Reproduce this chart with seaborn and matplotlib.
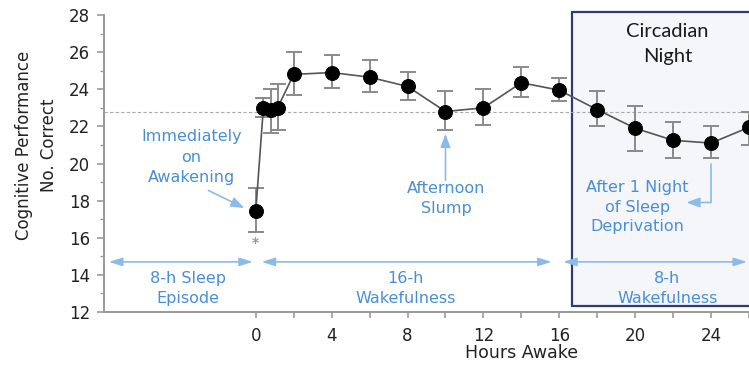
import matplotlib
matplotlib.use("Agg")
import matplotlib.pyplot as plt
import numpy as np
import pandas as pd
import seaborn as sns
from matplotlib.patches import Rectangle
from matplotlib.ticker import MultipleLocator

# values
hours = [0, 0.4, 0.8, 1.15, 2, 4, 6, 8, 10, 12, 14, 16, 18, 20, 22, 24, 26]
score = [17.45, 23.0, 22.9, 23.0, 24.8, 24.9, 24.65, 24.15, 22.8, 23.0,
         24.35, 23.95, 22.9, 21.9, 21.25, 21.1, 21.95]
err_low = [16.3, 22.5, 21.65, 21.8, 23.7, 24.05, 23.85, 23.4, 21.8, 22.1,
           23.6, 23.35, 22.0, 20.7, 20.3, 20.3, 21.0]
err_high = [18.7, 23.55, 24.0, 24.3, 26.0, 25.85, 25.55, 24.95, 23.9, 24.0,
            25.2, 24.6, 23.9, 23.1, 22.25, 22.0, 22.8]
baseline = 22.8

periods = ["8-h Sleep\nEpisode", "16-h\nWakefulness", "8-h\nWakefulness"]
period_start = [-7.75, 0.3, 16.2]
period_end = [-0.15, 15.6, 25.9]
period_mid = [-3.6, 7.9, 21.7]

df = pd.DataFrame({"hours": hours, "score": score,
                   "low": err_low, "high": err_high})

BLUE = "#4a8ed6"
BLUE_LINE = "#8dbbe9"
BLUE_HEAD = "#5b97db"
sns.set_style("ticks")
plt.rcParams["font.family"] = ["DejaVu Sans"]

fig = plt.figure(figsize=(7.49, 3.73), dpi=100)
ax = fig.add_axes([0.1389, 0.1635, 0.8611, 0.7963])

# circadian night box
ax.add_patch(Rectangle((16.67, 12.3), 10, 15.85, facecolor="#f5f6fa",
                       edgecolor="#2f3b78", lw=1.6, clip_on=False, zorder=0.5))
ax.text(21.7, 26.45, "Circadian\nNight", family=["Lato", "DejaVu Sans"],
        fontsize=14.5, ha="center", va="center", linespacing=1.55,
        color="#1a1a1a", zorder=3)

ax.axhline(baseline, color="#aaaaaa", lw=0.8, dashes=(3, 2), zorder=1)

ax.errorbar(df.hours, df.score,
            yerr=[df.score - df.low, df.high - df.score],
            fmt="none", ecolor="#8a8a8a", elinewidth=1.4, capsize=6,
            capthick=1.4, zorder=2)
sns.lineplot(data=df, x="hours", y="score", sort=False, ax=ax,
             color="#555555", lw=1.2, marker="o", markersize=10,
             markerfacecolor="black", markeredgecolor="black", zorder=4)

ax.text(0, 15.7, "*", color="#999999", fontsize=10, ha="center",
        va="center", fontweight="bold")

# period arrows
for lab, x0, x1, xm in zip(periods, period_start, period_end, period_mid):
    ax.annotate("", xy=(x1, 14.7), xytext=(x0, 14.7),
                arrowprops=dict(arrowstyle="<|-|>,head_length=0.8,head_width=0.25",
                                color=BLUE_LINE, lw=1.2, shrinkA=0, shrinkB=0,
                                mutation_scale=10),
                annotation_clip=False)
    ax.text(xm, 13.25, lab, color=BLUE, fontsize=11.5, ha="center",
            va="center", linespacing=1.4)

# callouts
ax.text(-3.4, 20.35, "Immediately\non\nAwakening", color=BLUE, fontsize=11.5,
        ha="center", va="center", linespacing=1.45)
ax.annotate("", xy=(-0.6, 17.6), xytext=(-2.5, 18.55),
            arrowprops=dict(arrowstyle="-|>,head_length=0.8,head_width=0.3",
                            color=BLUE_LINE, lw=1.2, shrinkA=0, shrinkB=0,
                            mutation_scale=10))
ax.text(10.05, 18.1, "Afternoon\nSlump", color=BLUE, fontsize=11.5,
        ha="center", va="center", linespacing=1.4)
ax.annotate("", xy=(10, 21.6), xytext=(10, 19.1),
            arrowprops=dict(arrowstyle="-|>,head_length=0.8,head_width=0.3",
                            color=BLUE_LINE, lw=1.2, shrinkA=0, shrinkB=0,
                            mutation_scale=10))
ax.text(20.1, 17.65, "After 1 Night\nof Sleep\nDeprivation", color=BLUE,
        fontsize=11.5, ha="center", va="center", linespacing=1.4)
ax.plot([24, 24], [20.0, 17.9], color=BLUE_LINE, lw=1.2)
ax.annotate("", xy=(22.7, 17.9), xytext=(24, 17.9),
            arrowprops=dict(arrowstyle="-|>,head_length=0.8,head_width=0.3",
                            color=BLUE_LINE, lw=1.2, shrinkA=0, shrinkB=0,
                            mutation_scale=10))

# axes
ax.set_xlim(-8, 26)
ax.set_ylim(12, 28)
ax.set_xticks([0, 4, 8, 12, 16, 20, 24])
ax.set_xticks([2, 6, 10, 14, 18, 22, 26], minor=True)
ax.yaxis.set_major_locator(MultipleLocator(2))
ax.yaxis.set_minor_locator(MultipleLocator(1))
ax.tick_params(axis="both", which="major", labelsize=12, colors="#999999",
               labelcolor="#222222", width=1.2)
ax.tick_params(axis="x", which="both", length=4, width=1.2, color="#999999", pad=7)
ax.tick_params(axis="y", which="major", length=5, pad=5)
ax.tick_params(axis="y", which="minor", length=3, width=1.0, color="#999999")
for side in ["top", "right"]:
    ax.spines[side].set_visible(False)
for side in ["left", "bottom"]:
    ax.spines[side].set_color("#999999")
    ax.spines[side].set_linewidth(1.4)

ax.set_xlabel("Hours Awake", fontsize=12.5, color="#222222",
              ha="center", va="center")
ax.xaxis.set_label_coords(0.647, -0.138)
ax.set_ylabel("Cognitive Performance\nNo. Correct", fontsize=12,
              color="#222222", linespacing=1.5, ha="center", va="center")
ax.yaxis.set_label_coords(-0.105, 0.562)

fig.savefig("out.png", dpi=100)
